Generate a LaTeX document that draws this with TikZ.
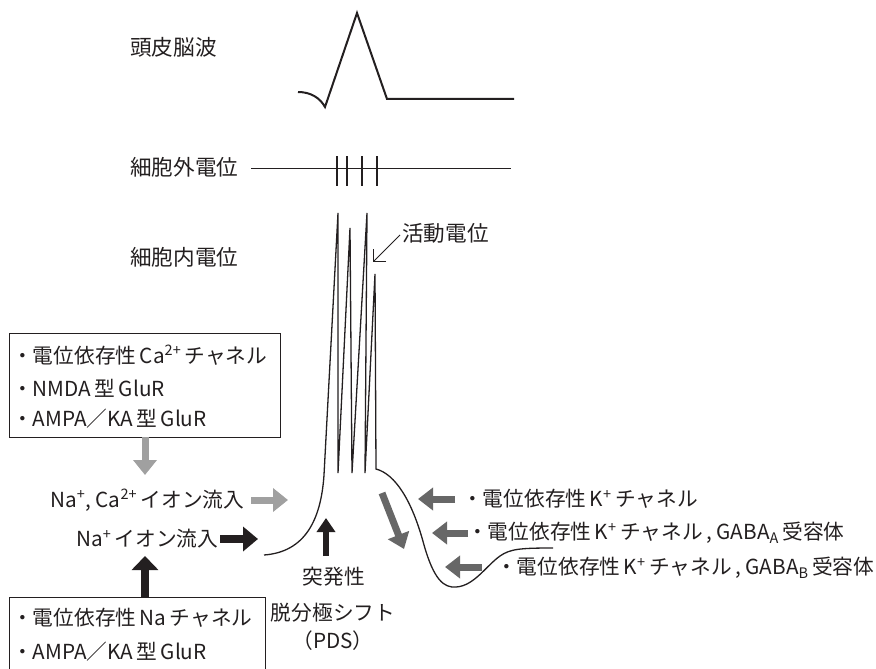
\documentclass[tikz,border=0pt]{standalone}
\usepackage{fontspec}
\setmainfont{Noto Sans CJK JP}
\usetikzlibrary{arrows.meta}
\definecolor{lgray}{HTML}{A0A0A0}
\definecolor{dgray}{HTML}{676767}
\definecolor{blk}{HTML}{231F20}
\begin{document}
\begin{tikzpicture}[x=1pt,y=-1pt,
  lbl/.style={anchor=west,inner sep=0pt,text=blk,font=\fontsize{21.6}{25}\selectfont},
  txt/.style={anchor=west,inner sep=0pt,text=blk,font=\fontsize{20.7}{24}\selectfont},
  ctxt/.style={anchor=center,inner sep=0pt,text=blk,font=\fontsize{20.7}{24}\selectfont},
  boxframe/.style={draw=blk,line width=1pt},
  lgarrow/.style={draw=lgray,line width=7pt,-{Triangle[length=15pt,width=23pt]}},
  bkarrow/.style={draw=blk,line width=8pt,-{Triangle[length=15pt,width=24pt]}},
  dgarrow/.style={draw=dgray,line width=7pt,-{Triangle[length=15pt,width=22pt]}},
  trace/.style={draw=blk,line width=1.3pt},
]
\useasboundingbox (0,0) rectangle (876,669);
\clip (0,0) rectangle (876,669);

% row labels
\node[lbl] (eeg) at (130,47) {頭皮脳波};
\node[lbl] (ext) at (130,167) {細胞外電位};
\node[lbl] (int) at (130,257) {細胞内電位};

% EEG trace
\draw[draw=blk,line width=2pt] (298,92) .. controls (311,92) and (320,98) .. (325,107) -- (357,13) -- (387,99) -- (514,99);

% extracellular trace
\coordinate (extL) at (251,168);
\coordinate (extR) at (511,168);
\draw[draw=blk,line width=0.9pt] (extL) -- (extR);
\foreach \xx in {337,347,362,377}{\draw[draw=blk,line width=2pt] (\xx,156) -- (\xx,186);}

% intracellular trace (PDS with spikes)
\draw[trace] (264,555) .. controls (305,552) and (321,520) .. (324,475) -- (338,213) -- (338,473) -- (350,228) -- (352,473) -- (367,213) -- (365,473) -- (375,274) -- (376,469)
  .. controls (395,474) and (412,500) .. (424,545) .. controls (434,580) and (444,588) .. (456,587) .. controls (474,586) and (486,566) .. (500,556) .. controls (510,549) and (520,548) .. (553,548);

% action potential label
\node[lbl] (ap) at (402,233) {活動電位};
\coordinate (apTip) at (373,262);
\draw[draw=blk,line width=1pt,-{Straight Barb[length=9pt,width=18pt]}] (ap.west) ++(-2,2) -- (apTip);

% upper box
\draw[boxframe] (9,333) rectangle (280,437);
\node[txt] (b1a) at (12,355) {・電位依存性\,Ca\textsuperscript{2+}\,チャネル};
\node[txt] (b1b) at (12,388) {・NMDA\,型\,GluR};
\node[txt] (b1c) at (12,419) {・AMPA／KA\,型\,GluR};
\coordinate (box1S) at (145,437);
\coordinate (box1T) at (145,475);
\draw[lgarrow] (box1S) -- (box1T);

% influx labels
\node[txt] (naca) at (50,500) {Na\textsuperscript{+}, Ca\textsuperscript{2+}\,イオン流入};
\node[txt] (na) at (76,539) {Na\textsuperscript{+}\,イオン流入};
\coordinate (nacaT) at (288,500);
\draw[lgarrow] (251,500) -- (nacaT);
\coordinate (naT) at (258,539);
\draw[bkarrow] (220,539) -- (naT);

% lower box
\draw[boxframe] (9,597) rectangle (265,700);
\node[txt] (b2a) at (12,618) {・電位依存性\,Na\,チャネル};
\node[txt] (b2b) at (12,652) {・AMPA／KA\,型\,GluR};
\coordinate (box2N) at (145,597);
\coordinate (box2T) at (145,556);
\draw[bkarrow,-{Triangle[length=14pt,width=26pt]}] (box2N) -- (box2T);

% PDS
\node[ctxt] (pds1) at (334,577) {突発性};
\node[ctxt] (pds2) at (333,613) {脱分極シフト};
\node[ctxt] (pds3) at (333,641) {（PDS）};
\coordinate (pdsT) at (326,518);
\draw[draw=blk,line width=6pt,-{Triangle[length=14pt,width=18pt]}] (326,556) -- (pdsT);

% repolarisation
\coordinate (dgS) at (382,493);
\coordinate (dgT) at (404,549);
\draw[dgarrow] (dgS) -- (dgT);
\node[txt] (k1) at (462,499) {・電位依存性\,K\textsuperscript{+}\,チャネル};
\node[txt] (k2) at (467,533) {・電位依存性\,K\textsuperscript{+}\,チャネル\,, GABA\textsubscript{A}\,受容体};
\node[txt] (k3) at (496,568) {・電位依存性\,K\textsuperscript{+}\,チャネル\,, GABA\textsubscript{B}\,受容体};
\coordinate (k1T) at (418,499);
\coordinate (k2T) at (432,533);
\coordinate (k3T) at (445,567);
\draw[dgarrow] (455,499) -- (k1T);
\draw[dgarrow] (468,533) -- (k2T);
\draw[dgarrow] (482,567) -- (k3T);
\end{tikzpicture}
\end{document}
